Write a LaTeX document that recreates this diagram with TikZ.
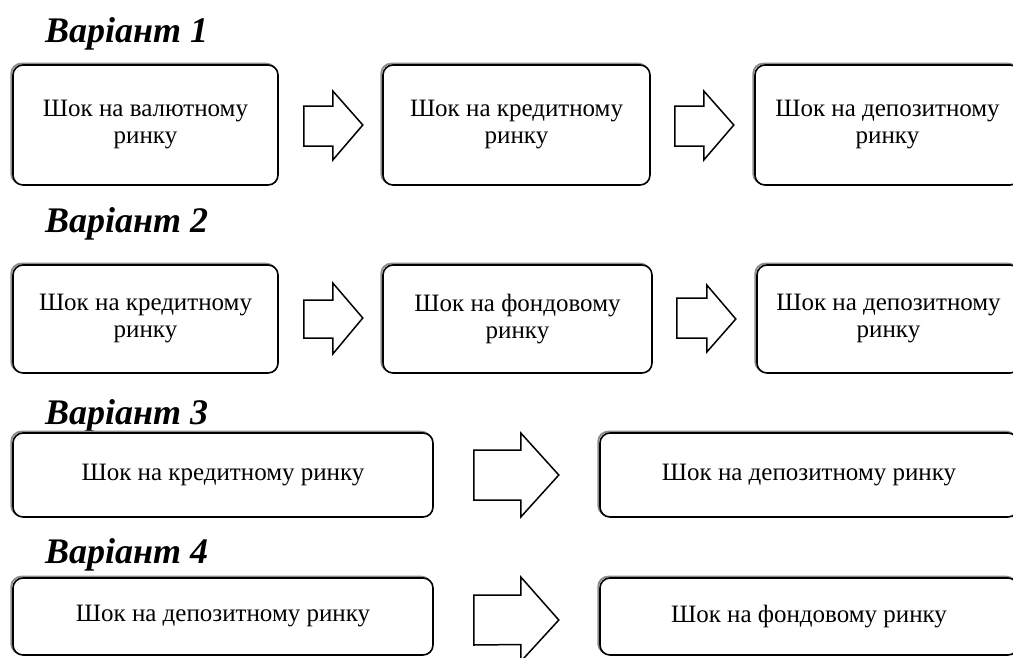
\documentclass[tikz,border=0pt]{standalone}
\usepackage{fontspec}
\setmainfont{Liberation Serif}
\usetikzlibrary{calc}
\begin{document}
\begin{tikzpicture}[x=1pt,y=-1pt,
  box/.style={draw, line width=1.6pt, rounded corners=10pt, fill=white,
    align=center, inner sep=0pt,
    font=\fontsize{25}{27}\selectfont,
    preaction={draw=black!45, line width=1.8pt, transform canvas={shift={(-1.8pt,1.4pt)}}}},
  title/.style={anchor=base west, inner sep=0pt, font=\fontsize{36}{40}\selectfont\bfseries\itshape},
  barrow/.style={draw, line width=1.5pt, fill=white, line join=miter}]
\useasboundingbox (0,0) rectangle (1013,657);
\clip (0,0) rectangle (1013,657);

% Variant 1
\node[title] (t1) at (45,42) {Варіант 1};
\node[box, minimum width=265pt, minimum height=120pt] (a1) at (145.5,125) {Шок на валютному\\ринку};
\node[box, minimum width=267pt, minimum height=120pt] (a2) at (516.5,125) {Шок на кредитному\\ринку};
\node[box, minimum width=265pt, minimum height=120pt] (a3) at (887.5,125) {Шок на депозитному\\ринку};
\draw[barrow] ($(a1.east)+(25,-19)$) -- ++(29,0) -- ++(0,-15) -- ($(a1.east)+(84,0)$) -- ($(a1.east)+(54,35)$) -- ++(0,-14) -- ($(a1.east)+(25,21)$) -- cycle;
\draw[barrow] ($(a2.east)+(24,-19)$) -- ++(29,0) -- ++(0,-15) -- ($(a2.east)+(83,0)$) -- ($(a2.east)+(53,35)$) -- ++(0,-14) -- ($(a2.east)+(24,21)$) -- cycle;

% Variant 2
\node[title] (t2) at (45,232) {Варіант 2};
\node[box, minimum width=265pt, minimum height=108pt] (b1) at (145.5,319) {Шок на кредитному\\ринку};
\node[box, minimum width=269pt, minimum height=108pt] (b2) at (517.5,319) {Шок на фондовому\\ринку};
\node[box, minimum width=263pt, minimum height=108pt] (b3) at (888.5,319) {Шок на депозитному\\ринку};
\draw[barrow] ($(b1.east)+(25,-19)$) -- ++(29,0) -- ++(0,-17) -- ($(b1.east)+(84,-1)$) -- ($(b1.east)+(54,35)$) -- ++(0,-16) -- ($(b1.east)+(25,19)$) -- cycle;
\draw[barrow] ($(b2.east)+(24,-21)$) -- ++(30,0) -- ++(0,-13) -- ($(b2.east)+(83,0)$) -- ($(b2.east)+(54,33)$) -- ++(0,-14) -- ($(b2.east)+(24,19)$) -- cycle;

% Variant 3
\node[title] (t3) at (45,424) {Варіант 3};
\node[box, minimum width=420pt, minimum height=84pt] (c1) at (223,475) {Шок на кредитному ринку};
\node[box, minimum width=418pt, minimum height=84pt] (c2) at (809,475) {Шок на депозитному ринку};
\draw[barrow] ($(c1.east)+(40,-25)$) -- ++(47,0) -- ++(0,-17) -- ($(c1.east)+(125,0)$) -- ($(c1.east)+(87,42)$) -- ++(0,-17) -- ($(c1.east)+(40,25)$) -- cycle;

% Variant 4
\node[title] (t4) at (45,563) {Варіант 4};
\node[box, minimum width=420pt, minimum height=77pt] (d1) at (223,616.5) {Шок на депозитному ринку};
\node[box, minimum width=418pt, minimum height=77pt] (d2) at (809,616.5) {Шок на фондовому ринку};
\draw[barrow] ($(d1.east)+(40,-21.5)$) -- ++(47,0) -- ++(0,-18) -- ($(d1.east)+(125,3.5)$) -- ($(d1.east)+(87,45)$) -- ++(0,-17) -- ($(d1.east)+(40,28.5)$) -- cycle;
\end{tikzpicture}
\end{document}
